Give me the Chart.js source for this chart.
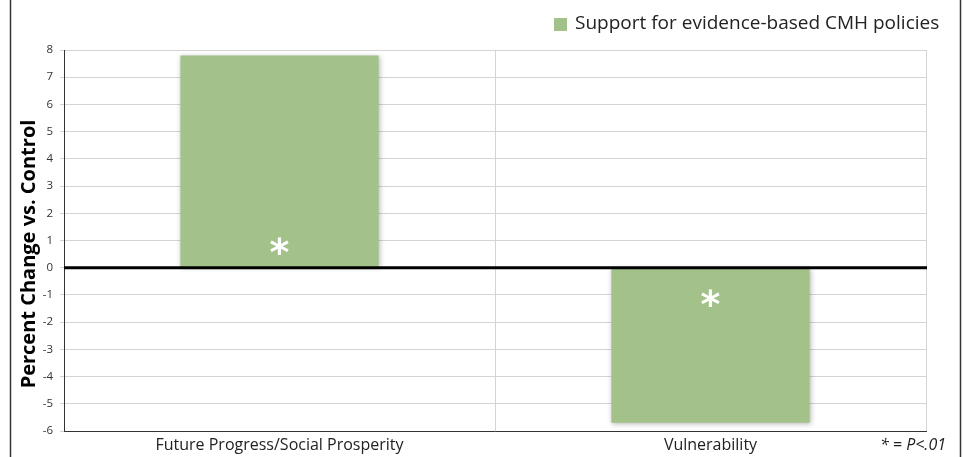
<!DOCTYPE html>
<html>
<head>
<meta charset="utf-8">
<script src="https://cdn.jsdelivr.net/npm/chart.js@4.4.1/dist/chart.umd.min.js"></script>
<style>
  html, body { margin: 0; padding: 0; background: #fff; }
  #wrap { width: 964px; height: 457px; }
</style>
</head>
<body>
<div id="wrap"><canvas id="chart" width="964" height="457"></canvas></div>
<script>
const categories = ["Future Progress/Social Prosperity", "Vulnerability"];
const seriesName = "Support for evidence-based CMH policies";
const values = [7.8, -5.7];
const significant = [true, true];
const yTicks = [-6, -5, -4, -3, -2, -1, 0, 1, 2, 3, 4, 5, 6, 7, 8];
const yTitle = "Percent Change vs. Control";
const footnote = "* = P<.01";

const green = "#a2c28a";
const font = "'Open Sans', 'Liberation Sans', sans-serif";

const extras = {
    id: "extras",
    beforeDatasetsDraw(chart) {
        const c = chart.ctx;
        c.save();
        c.shadowColor = "rgba(0,0,0,0.28)";
        c.shadowBlur = 5;
        c.shadowOffsetX = 1;
        c.shadowOffsetY = 1;
    },
    afterDatasetsDraw(chart) {
        const c = chart.ctx;
        c.restore();
        const area = chart.chartArea;
        const y = chart.scales.y;
        // zero line
        c.save();
        c.strokeStyle = "#000";
        c.lineWidth = 3;
        c.beginPath();
        c.moveTo(area.left, y.getPixelForValue(0));
        c.lineTo(area.right + 1, y.getPixelForValue(0));
        c.stroke();
        // significance marks
        c.fillStyle = "#fff";
        c.font = "bold 38px 'DejaVu Sans', sans-serif";
        c.textAlign = "center";
        c.textBaseline = "middle";
        chart.getDatasetMeta(0).data.forEach((bar, i) => {
            if (!significant[i]) return;
            const up = values[i] >= 0;
            const ty = up ? bar.base - 12 : bar.base + 39;
            c.fillText("*", bar.x, ty);
        });
        // y axis title, sitting a little below the plot centre as in the original
        c.save();
        c.translate(29.5, 254);
        c.rotate(-Math.PI / 2);
        c.fillStyle = "#000";
        c.font = "bold 20px " + font;
        c.fillText(yTitle, 0, 0);
        c.restore();
        // legend
        c.fillStyle = green;
        c.fillRect(554, 18, 13, 13);
        c.fillStyle = "#222";
        c.font = "19px " + font;
        c.textAlign = "left";
        c.textBaseline = "middle";
        c.fillText(seriesName, 575, 24);
        // footnote
        c.font = "italic 16px " + font;
        c.textAlign = "right";
        c.fillText(footnote, 946, 445);
        // frame
        c.strokeStyle = "#333";
        c.lineWidth = 1.5;
        c.beginPath();
        c.moveTo(10.5, 0); c.lineTo(10.5, 457);
        c.moveTo(960.5, 0); c.lineTo(960.5, 457);
        c.stroke();
        c.restore();
    }
};

new Chart(document.getElementById("chart"), {
    type: "bar",
    data: {
        labels: categories,
        datasets: [{
            label: seriesName,
            data: values,
            backgroundColor: green,
            borderWidth: 0,
            categoryPercentage: 1,
            barPercentage: 0.46
        }]
    },
    options: {
        responsive: false,
        animation: false,
        devicePixelRatio: 1,
        layout: { padding: { left: 10, right: 38, top: 50, bottom: 0 } },
        plugins: { legend: { display: false }, tooltip: { enabled: false } },
        scales: {
            x: {
                grid: { offset: true, color: "#d4d4d4", drawTicks: false },
                border: { color: "#333", width: 1 },
                ticks: { color: "#222", font: { family: font, size: 16 }, padding: 5 },
                afterFit: s => { s.height = 26; }
            },
            y: {
                min: yTicks[0],
                max: yTicks[yTicks.length - 1],
                afterBuildTicks: s => { s.ticks = yTicks.map(v => ({ value: v })); },
                grid: { color: "#d4d4d4", tickLength: 4 },
                border: { color: "#333", width: 1 },
                ticks: { color: "#333", font: { family: font, size: 11.5 }, padding: 7 },
                afterFit: s => { s.width = 54; }
            }
        }
    },
    plugins: [extras]
});
</script>
</body>
</html>
